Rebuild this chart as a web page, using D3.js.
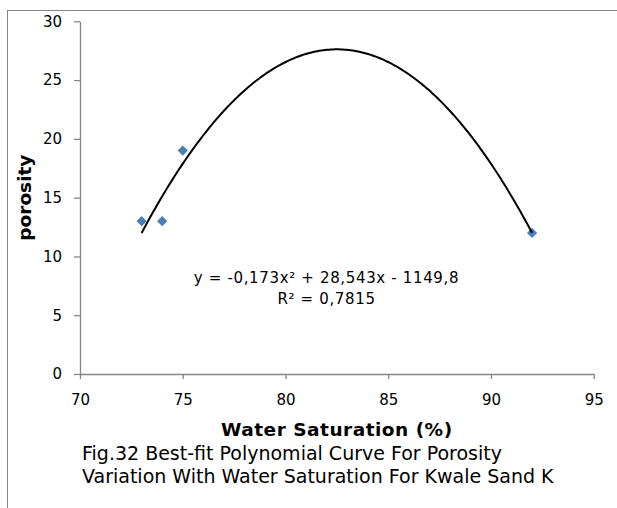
<!DOCTYPE html>
<html>
<head>
<meta charset="utf-8">
<script src="https://cdn.jsdelivr.net/npm/d3@7"></script>
<style>
  html, body { margin: 0; padding: 0; background: #fff; }
  svg { display: block; }
  text { font-family: "DejaVu Sans", Verdana, sans-serif; fill: #000; }
</style>
</head>
<body>
<svg id="chart" width="617" height="508"></svg>
<script>
// ---- data ----
const waterSaturation = [73, 74, 75, 92];
const porosity = [13, 13, 19, 12];
const xTicks = [70, 75, 80, 85, 90, 95];
const yTicks = [0, 5, 10, 15, 20, 25, 30];
const equationLines = ["y = -0,173x\u00B2 + 28,543x - 1149,8", "R\u00B2 = 0,7815"];
const xTitle = "Water Saturation (%)";
const yTitle = "porosity";
const captionLines = ["Fig.32 Best-fit Polynomial Curve For Porosity",
                      "Variation With Water Saturation For Kwale Sand K"];

// ---- layout ----
const svg = d3.select("#chart");
const axisColor = "#868686";
const x = d3.scaleLinear().domain([70, 95]).range([80, 593.7]);
const y = d3.scaleLinear().domain([0, 30]).range([374, 21.3]);

// outer frame (extends beyond viewport on right and bottom)
svg.append("rect")
  .attr("x", 7.5).attr("y", 10.5)
  .attr("width", 800).attr("height", 800)
  .attr("fill", "none").attr("stroke", axisColor).attr("stroke-width", 1);

// axes
const gx = svg.append("g").attr("transform", `translate(0,${y(0)})`)
  .call(d3.axisBottom(x).tickValues(xTicks).tickSize(5).tickSizeOuter(0).tickPadding(15).tickFormat(d3.format("d")));
const gy = svg.append("g").attr("transform", `translate(${x(70)},0)`)
  .call(d3.axisLeft(y).tickValues(yTicks).tickSize(6).tickSizeOuter(0).tickPadding(12).tickFormat(d3.format("d")));
[gx, gy].forEach(g => {
  g.selectAll("path.domain").attr("stroke", axisColor).attr("stroke-width", 1.3);
  g.selectAll(".tick line").attr("stroke", axisColor).attr("stroke-width", 1.3);
  g.selectAll(".tick text").attr("fill", "#000")
    .style("font-family", "'DejaVu Sans', Verdana, sans-serif").style("font-size", "15px");
});

// polynomial (order 2) least-squares fit of the data
function polyFit2(xs, ys) {
  const x0 = d3.mean(xs);
  const u = xs.map(v => v - x0);
  const S = k => d3.sum(u, v => Math.pow(v, k));
  const T = k => d3.sum(u, (v, i) => Math.pow(v, k) * ys[i]);
  const A = [[S(0), S(1), S(2)], [S(1), S(2), S(3)], [S(2), S(3), S(4)]];
  const b = [T(0), T(1), T(2)];
  for (let i = 0; i < 3; i++) {
    for (let j = i + 1; j < 3; j++) {
      const f = A[j][i] / A[i][i];
      for (let k = i; k < 3; k++) A[j][k] -= f * A[i][k];
      b[j] -= f * b[i];
    }
  }
  const c = [0, 0, 0];
  for (let i = 2; i >= 0; i--) {
    let s = b[i];
    for (let k = i + 1; k < 3; k++) s -= A[i][k] * c[k];
    c[i] = s / A[i][i];
  }
  return xv => c[0] + c[1] * (xv - x0) + c[2] * (xv - x0) * (xv - x0);
}
const fit = polyFit2(waterSaturation, porosity);
const xmin = d3.min(waterSaturation), xmax = d3.max(waterSaturation);
const curvePts = d3.range(xmin, xmax + 1e-9, (xmax - xmin) / 200).map(v => [v, fit(v)]);

// markers first, trendline on top
const pts = waterSaturation.map((v, i) => [v, porosity[i]]);
svg.append("g").selectAll("path").data(pts).enter().append("path")
  .attr("d", d3.symbol().type(d3.symbolSquare).size(52))
  .attr("transform", d => `translate(${x(d[0])},${y(d[1])}) rotate(45)`)
  .attr("fill", "#4A7EBB");

svg.append("path").datum(curvePts)
  .attr("d", d3.line().x(d => x(d[0])).y(d => y(d[1])))
  .attr("fill", "none").attr("stroke", "#000").attr("stroke-width", 2);

// equation label
svg.append("g").selectAll("text").data(equationLines).enter().append("text")
  .attr("x", 326.5).attr("y", (d, i) => 282.5 + i * 21.5)
  .attr("text-anchor", "middle")
  .style("font-size", "15px").style("letter-spacing", "0.65px")
  .text(d => d);

// axis titles
svg.append("text")
  .attr("x", (x(70) + x(95)) / 2).attr("y", 435.7)
  .attr("text-anchor", "middle")
  .style("font-size", "18.5px").style("font-weight", "bold").style("letter-spacing", "0.5px")
  .text(xTitle);

svg.append("text")
  .attr("transform", `translate(31,${(y(0) + y(30)) / 2}) rotate(-90)`)
  .attr("text-anchor", "middle")
  .style("font-size", "18.5px").style("font-weight", "bold")
  .text(yTitle);

// caption
svg.append("g").selectAll("text").data(captionLines).enter().append("text")
  .attr("x", 82).attr("y", (d, i) => 460 + i * 23.3)
  .style("font-size", "19px")
  .text(d => d);
</script>
</body>
</html>
